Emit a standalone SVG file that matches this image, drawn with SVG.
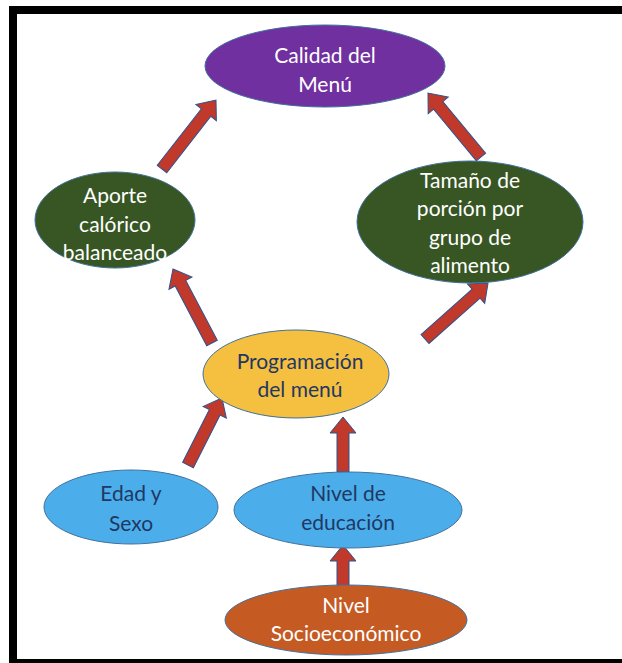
<svg xmlns="http://www.w3.org/2000/svg" width="622" height="663" viewBox="0 0 622 663">
<defs>
<style>
.t{font-family:Lato,"Open Sans","DejaVu Sans",sans-serif;font-size:21px;text-anchor:middle}
.w{fill:#ffffff}
.d{fill:#1F3864}
.arr{fill:#C0392B;stroke:#2F528F;stroke-width:1}
.n{stroke:#41719C;stroke-width:1}
</style>
</defs>
<rect x="0" y="0" width="622" height="663" fill="#ffffff"/>
<rect x="13" y="10" width="620" height="653" fill="none" stroke="#000000" stroke-width="8"/>
<g id="connectors">
<polygon class="arr" transform="translate(162,169) rotate(-51.95)" points="0,-6 71.6,-6 71.6,-13 87.6,0 71.6,13 71.6,6 0,6"/>
<polygon class="arr" transform="translate(481,157) rotate(-129.63)" points="0,-6 67.1,-6 67.1,-13 83.1,0 67.1,13 67.1,6 0,6"/>
<polygon class="arr" transform="translate(212,343) rotate(-117.8)" points="0,-6 67.6,-6 67.6,-13 83.6,0 67.6,13 67.6,6 0,6"/>
<polygon class="arr" transform="translate(425,339) rotate(-41.6)" points="0,-6 68.3,-6 68.3,-13 84.3,0 68.3,13 68.3,6 0,6"/>
<polygon class="arr" transform="translate(188,465) rotate(-63.1)" points="0,-6 59.1,-6 59.1,-13 75.1,0 59.1,13 59.1,6 0,6"/>
<polygon class="arr" transform="translate(343,472) rotate(-90)" points="0,-6 39,-6 39,-13 55,0 39,13 39,6 0,6"/>
<polygon class="arr" transform="translate(343,588) rotate(-90)" points="0,-6 27,-6 27,-13 43,0 27,13 27,6 0,6"/>
</g>
<g id="calidad">
<ellipse class="n" cx="325" cy="66" rx="120" ry="41" fill="#7030A0"/>
<text class="t w" x="325" y="63">Calidad del</text>
<text class="t w" x="325" y="92">Menú</text>
</g>
<g id="aporte">
<ellipse class="n" cx="115" cy="220" rx="80" ry="48" fill="#375623"/>
<text class="t w" x="115" y="203">Aporte</text>
<text class="t w" x="115" y="232">calórico</text>
<text class="t w" x="115" y="260">balanceado</text>
</g>
<g id="tamano">
<ellipse class="n" cx="470" cy="222" rx="113" ry="61" fill="#375623"/>
<text class="t w" x="470" y="188">Tamaño de</text>
<text class="t w" x="470" y="216">porción por</text>
<text class="t w" x="470" y="245">grupo de</text>
<text class="t w" x="470" y="273">alimento</text>
</g>
<g id="programacion">
<ellipse class="n" cx="296" cy="374" rx="93" ry="44" fill="#F5BF3F"/>
<text class="t d" x="300" y="369">Programación</text>
<text class="t d" x="300" y="397">del menú</text>
</g>
<g id="edad">
<ellipse class="n" cx="131" cy="507" rx="87" ry="37" fill="#4BAEEA"/>
<text class="t d" x="131" y="501">Edad y</text>
<text class="t d" x="131" y="531">Sexo</text>
</g>
<g id="educacion">
<ellipse class="n" cx="348" cy="510" rx="114" ry="38" fill="#4BAEEA"/>
<text class="t d" x="348" y="501">Nivel de</text>
<text class="t d" x="348" y="530">educación</text>
</g>
<g id="socio">
<ellipse class="n" cx="346" cy="620" rx="121" ry="35" fill="#C55A23"/>
<text class="t w" x="346" y="613">Nivel</text>
<text class="t w" x="346" y="641">Socioeconómico</text>
</g>
</svg>
